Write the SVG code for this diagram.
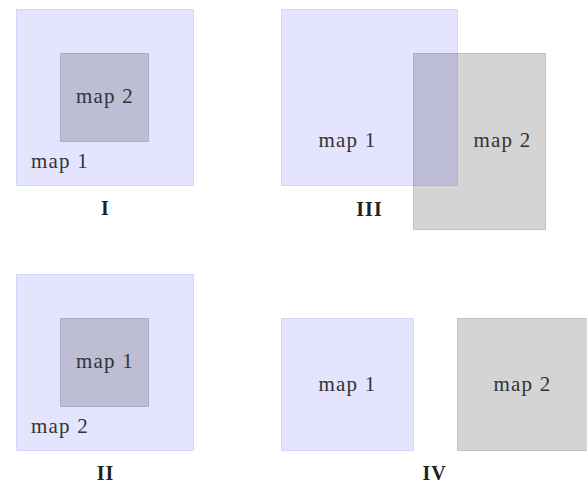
<svg xmlns="http://www.w3.org/2000/svg" width="587" height="484" viewBox="0 0 587 484">
  <style>
    .m1 { fill: #0000ff; fill-opacity: 0.105; stroke: #0000ff; stroke-opacity: 0.12; stroke-width: 1; }
    .m2 { fill: #000000; fill-opacity: 0.17; stroke: #000000; stroke-opacity: 0.17; stroke-width: 1; }
    .t { font-family: "Liberation Serif", "Times New Roman", serif; font-size: 21px; letter-spacing: 1.2px; fill: #333333; }
    .c { text-anchor: middle; }
    .cap { font-family: "Liberation Serif", "Times New Roman", serif; font-size: 20px; letter-spacing: 1px; font-weight: bold; fill: #222222; text-anchor: middle; }
  </style>
  <rect width="587" height="484" fill="#ffffff"/>

  <!-- Case I: map 2 inside map 1 -->
  <g id="case-I">
    <rect class="m1" x="16.5" y="9.5" width="177" height="176"/>
    <rect class="m2" x="60.5" y="53.5" width="88" height="88"/>
    <text class="t c" x="105" y="103">map 2</text>
    <text class="t" x="31" y="168">map 1</text>
    <text class="cap" x="105.5" y="215">I</text>
  </g>

  <!-- Case III: partial overlap -->
  <g id="case-III">
    <rect class="m2" x="413.5" y="53.5" width="132" height="176"/>
    <rect class="m1" x="281.5" y="9.5" width="176" height="176"/>
    <text class="t c" x="347.5" y="147">map 1</text>
    <text class="t c" x="502.5" y="147">map 2</text>
    <text class="cap" x="369.5" y="216">III</text>
  </g>

  <!-- Case II: map 1 inside map 2 -->
  <g id="case-II">
    <rect class="m1" x="16.5" y="274.5" width="177" height="176"/>
    <rect class="m2" x="60.5" y="318.5" width="88" height="88"/>
    <text class="t c" x="105" y="368">map 1</text>
    <text class="t" x="31" y="433">map 2</text>
    <text class="cap" x="105.5" y="480">II</text>
  </g>

  <!-- Case IV: disjoint -->
  <g id="case-IV">
    <rect class="m1" x="281.5" y="318.5" width="132" height="132"/>
    <rect class="m2" x="457.5" y="318.5" width="140" height="132"/>
    <text class="t c" x="347.5" y="391">map 1</text>
    <text class="t c" x="522.5" y="391">map 2</text>
    <text class="cap" x="434.5" y="480">IV</text>
  </g>

  <g id="connectors"/>
</svg>
